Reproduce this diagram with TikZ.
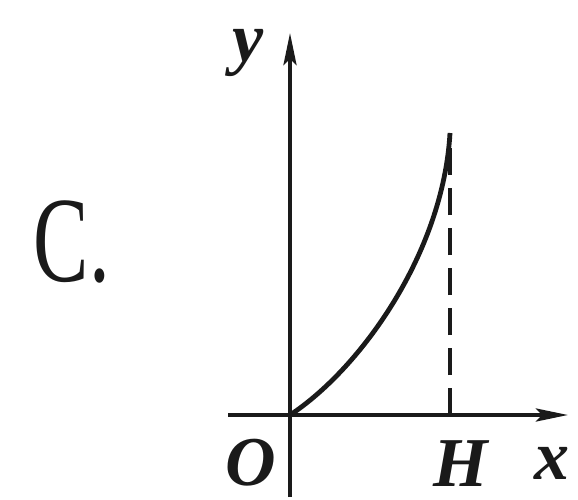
\documentclass[tikz,border=0pt]{standalone}
\usepackage{fontspec}
\setmainfont{Liberation Serif}
\usetikzlibrary{arrows.meta}
\definecolor{grink}{HTML}{1A1A1A}
\tikzset{
  gr axis/.style={draw=grink, line width=2pt, -{Stealth[length=16pt,width=6.5pt,inset=3pt]}},
  gr curve/.style={draw=grink, line width=2.4pt},
  gr drop/.style={draw=grink, line width=2pt, dash pattern=on 13.5pt off 6.5pt},
  gr label/.style={font=\fontsize{35}{35}\selectfont\bfseries\itshape, text=grink, inner sep=0pt},
  gr tag/.style={font=\fontsize{61}{61}\selectfont, text=grink, inner sep=0pt}
}
\begin{document}
\begin{tikzpicture}[x=0.5pt, y=0.5pt]
  \useasboundingbox (0,0) rectangle (578,499);
  \coordinate (O) at (290,84);
  \coordinate (xstart) at (228,84);
  \coordinate (xend) at (568,84);
  \coordinate (ybot) at (290,2);
  \coordinate (yend) at (290,466);
  \coordinate (top) at (450,366);
  \coordinate (foot) at (450,84);
  \draw[gr axis] (xstart) -- (xend);
  \draw[gr axis] (ybot) -- (yend);
  \draw[gr drop] (foot) -- (top);
  \draw[gr curve] (O) .. controls (360,130) and (443,245) .. (top);
  \node[gr tag] (tag) at (72,257) {\scalebox{0.68}[1]{C.}};
  \node[gr label] (ylab) at (248,446) {y};
  \node[gr label] (olab) at (251,36) {O};
  \node[gr label] (hlab) at (461,35) {H};
  \node[gr label] (xlab) at (552,36) {x};
\end{tikzpicture}
\end{document}
